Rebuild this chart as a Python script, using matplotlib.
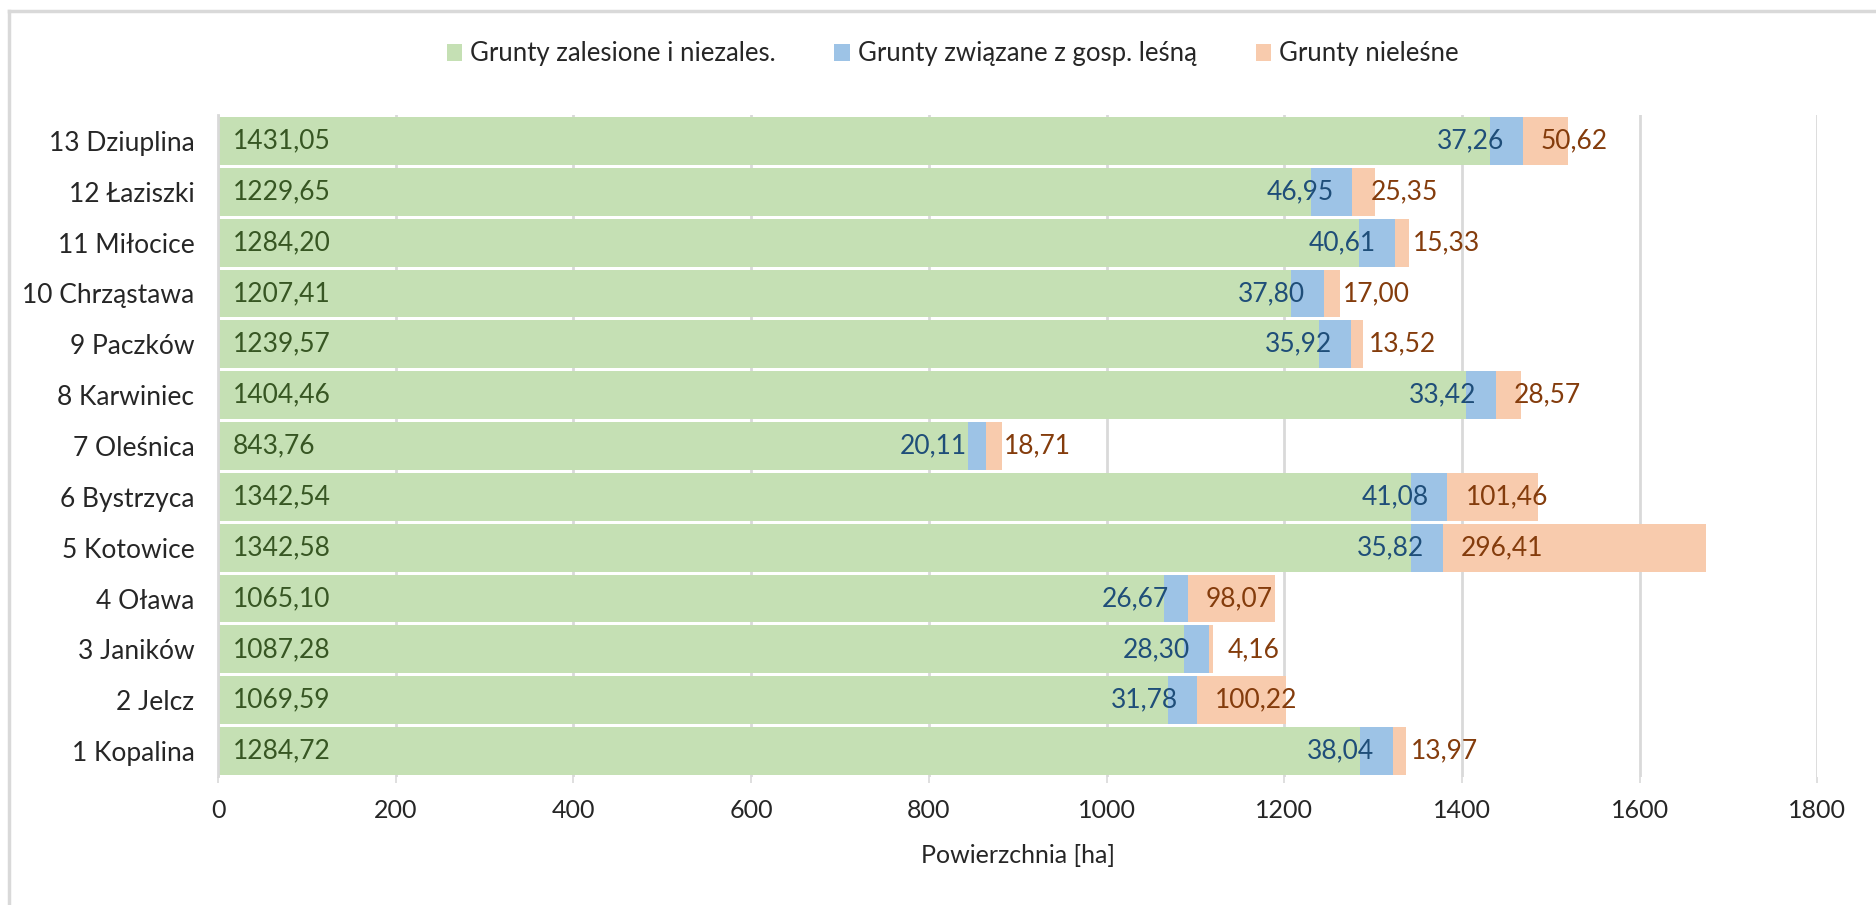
import matplotlib
matplotlib.use("Agg")
import matplotlib.pyplot as plt
from matplotlib.patches import Patch
from matplotlib.lines import Line2D

categories = ["1 Kopalina", "2 Jelcz", "3 Janików", "4 Oława", "5 Kotowice",
              "6 Bystrzyca", "7 Oleśnica", "8 Karwiniec", "9 Paczków",
              "10 Chrząstawa", "11 Miłocice", "12 Łaziszki", "13 Dziuplina"]
zalesione = [1284.72, 1069.59, 1087.28, 1065.10, 1342.58, 1342.54, 843.76,
             1404.46, 1239.57, 1207.41, 1284.20, 1229.65, 1431.05]
zwiazane = [38.04, 31.78, 28.30, 26.67, 35.82, 41.08, 20.11,
            33.42, 35.92, 37.80, 40.61, 46.95, 37.26]
nielesne = [13.97, 100.22, 4.16, 98.07, 296.41, 101.46, 18.71,
            28.57, 13.52, 17.00, 15.33, 25.35, 50.62]
series_names = ["Grunty zalesione i niezales.", "Grunty związane z gosp. leśną", "Grunty nieleśne"]
xticks = [0, 200, 400, 600, 800, 1000, 1200, 1400, 1600, 1800]

plt.rcParams['font.family'] = ['Lato', 'DejaVu Sans']
FS = 19
FS_TICK = 18
FS_LEG = 18.5

c_green, c_blue, c_orange = "#C5E0B4", "#9DC3E6", "#F8CBAD"
t_green, t_blue, t_orange = "#375623", "#1F4E79", "#843C0C"
grid_c = "#D9D9D9"

fig = plt.figure(figsize=(18.76, 9.05), dpi=100)
ax = fig.add_axes([218/1876, 1-776.5/905, (1817.4-218)/1876, (776.5-115.5)/905])

y = list(range(len(categories)))
h = 0.94
left2 = [g for g in zalesione]
left3 = [g + b for g, b in zip(zalesione, zwiazane)]
ax.barh(y, zalesione, height=h, color=c_green, zorder=2)
ax.barh(y, zwiazane, left=left2, height=h, color=c_blue, zorder=2)
ax.barh(y, nielesne, left=left3, height=h, color=c_orange, zorder=2)

fmt = lambda v: f"{v:.2f}".replace(".", ",")
for i in y:
    ax.annotate(fmt(zalesione[i]), (0, i), xytext=(15, 0), textcoords="offset pixels",
                ha="left", va="center", fontsize=FS, color=t_green, zorder=3)
    ax.annotate(fmt(zwiazane[i]), (left3[i], i), xytext=(-19, 0), textcoords="offset pixels",
                ha="right", va="center", fontsize=FS, color=t_blue, zorder=3)
    ax.annotate(fmt(nielesne[i]), (left3[i], i), xytext=(18, 0), textcoords="offset pixels",
                ha="left", va="center", fontsize=FS, color=t_orange, zorder=3)

ax.set_xlim(0, 1800)
ax.set_ylim(-0.5, len(categories) - 0.5)
ax.set_xticks(xticks)
ax.set_xticklabels([str(t) for t in xticks], fontsize=FS_TICK, color="#262626")
ax.set_yticks(y)
ax.set_yticklabels(categories, fontsize=FS, color="#262626")
ax.tick_params(axis="y", length=0, pad=17)
ax.tick_params(axis="x", length=4, width=1.2, color=grid_c, pad=12)
ax.xaxis.grid(True, color=grid_c, linewidth=2, zorder=0)
ax.set_axisbelow(True)
for s in ["top", "right", "bottom"]:
    ax.spines[s].set_visible(False)
ax.spines["left"].set_color(grid_c)
ax.spines["left"].set_linewidth(2)
ax.set_xlabel("Powierzchnia [ha]", fontsize=FS_TICK, color="#262626", labelpad=16)

handles = [Patch(facecolor=c, edgecolor="none") for c in (c_green, c_blue, c_orange)]
fig.legend(handles, series_names, loc="center", bbox_to_anchor=(0.5077, 1-54/905),
           ncol=3, frameon=False, fontsize=FS_LEG, handlelength=0.6, handleheight=0.7,
           handletextpad=0.3, columnspacing=2.3, labelcolor="#262626")

# chart-area border (top and left visible)
fig.add_artist(Line2D([9/1876, 1], [1-11/905, 1-11/905], color=grid_c, linewidth=2.5,
                      transform=fig.transFigure))
fig.add_artist(Line2D([9/1876, 9/1876], [0, 1-11/905], color=grid_c, linewidth=2.5,
                      transform=fig.transFigure))

fig.savefig("out.png", dpi=100, facecolor="white")
